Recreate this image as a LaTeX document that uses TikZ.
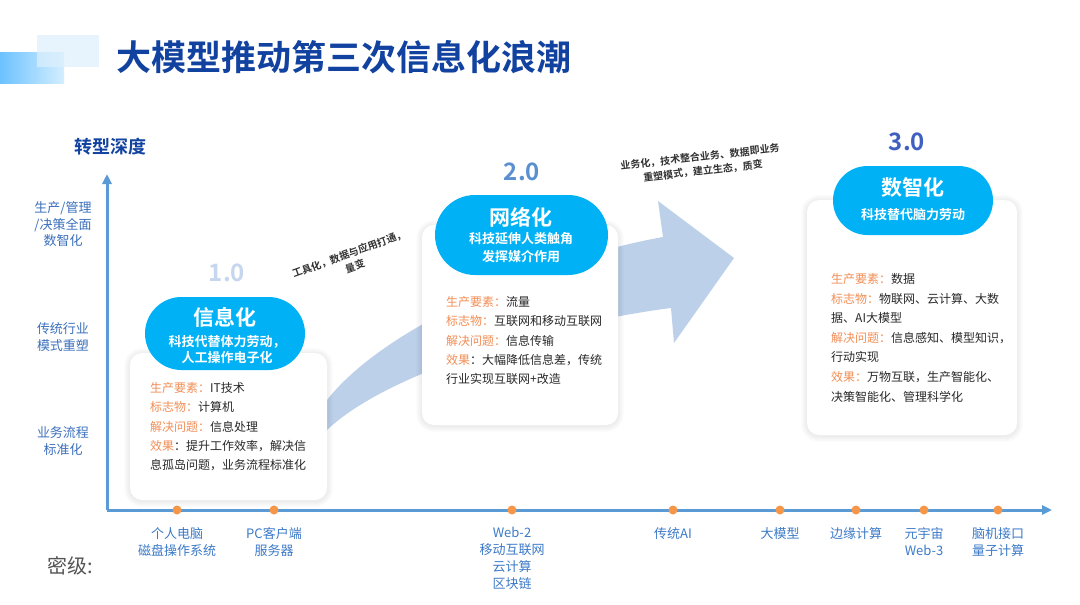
\documentclass[tikz,border=0pt]{standalone}
\usepackage{fontspec}
\setmainfont{Noto Sans CJK SC}[BoldFont={Noto Sans CJK SC Bold}]
\usetikzlibrary{arrows.meta,shapes.misc}
\definecolor{titleblue}{RGB}{18,66,160}
\definecolor{axisblue}{RGB}{91,155,213}
\definecolor{lblblue}{RGB}{60,112,188}
\definecolor{botblue}{RGB}{60,122,200}
\definecolor{pillblue}{RGB}{0,178,245}
\definecolor{arrowblue}{RGB}{189,208,233}
\definecolor{dotorange}{RGB}{245,150,72}
\definecolor{lblorange}{RGB}{242,142,86}
\definecolor{bodytext}{RGB}{40,40,40}
\definecolor{vone}{RGB}{197,214,238}
\definecolor{vtwo}{RGB}{90,143,208}
\definecolor{vthree}{RGB}{64,96,192}
\definecolor{rotgray}{RGB}{50,50,50}
\newcommand{\lbl}[1]{\textcolor{lblorange}{#1}}
\begin{document}
\begin{tikzpicture}[x=1pt,y=-1pt,
  card/.style={rectangle, rounded corners=12pt, fill=white, inner sep=0pt},
  pill/.style={rounded rectangle, fill=pillblue, inner sep=0pt},
  cardtext/.style={anchor=west, inner sep=0pt, text=bodytext, font=\fontsize{12}{14}\selectfont},
  pilltitle/.style={inner sep=0pt, text=white, font=\fontsize{21}{24}\selectfont\bfseries},
  pillsub/.style={inner sep=0pt, text=white, align=center, font=\fontsize{13}{18}\selectfont\bfseries},
  vlabel/.style={inner sep=0pt, font=\fontsize{24}{28}\selectfont\bfseries},
  axislbl/.style={inner sep=0pt, text=lblblue, align=center, font=\fontsize{13}{16.5}\selectfont},
  botlbl/.style={inner sep=0pt, anchor=north, text=botblue, align=center, font=\fontsize{13}{17}\selectfont},
  rottext/.style={inner sep=0pt, text=rotgray, font=\fontsize{10}{13}\selectfont\bfseries},
  axis/.style={draw=axisblue, line width=3pt, -{Triangle[length=10pt,width=9pt]}},
  dot/.style={circle, fill=dotorange, minimum size=9pt, inner sep=0pt}
]
\useasboundingbox (0,0) rectangle (1080,605);
\fill[white] (0,0) rectangle (1080,605);

% decoration
\shade[left color={rgb,255:red,108;green,194;blue,255}, right color={rgb,255:red,212;green,238;blue,255}] (0,52) rectangle (64,83);
\fill[fill={rgb,255:red,222;green,240;blue,253}, opacity=0.7] (37,35) rectangle (99,67);

% title
\node[inner sep=0pt, anchor=west, text=titleblue, font=\fontsize{35}{40}\selectfont\bfseries] (title) at (116,57) {大模型推动第三次信息化浪潮};

% axes
\coordinate (O) at (107,510);
\coordinate (ytop) at (107,174);
\coordinate (xend) at (1052,510);
\draw[axis] (O) -- (ytop);
\draw[axis] (O) -- (xend);
\node[inner sep=0pt, text=titleblue, font=\fontsize{18}{20}\selectfont\bfseries] (ylabel) at (110,147) {转型深度};

\node[axislbl] (a3) at (63,224.5) {生产/管理\\/决策全面\\数智化};
\node[axislbl] (a2) at (63,337) {传统行业\\模式重塑};
\node[axislbl] (a1) at (63,441) {业务流程\\标准化};

% dots and bottom labels
\foreach \xx/\lab [count=\i] in {177/{个人电脑\\磁盘操作系统}, 274/{PC客户端\\服务器}, 512/{Web-2\\移动互联网\\云计算\\区块链}, 673/{传统AI}, 780/{大模型}, 856/{边缘计算}, 924/{元宇宙\\Web-3}, 998/{脑机接口\\量子计算}} {
  \node[dot] (d\i) at (\xx,510) {};
  \node[botlbl] (b\i) at (\xx,527) {\lab};
}

\node[inner sep=0pt, text={rgb,255:red,85;green,85;blue,85}, font=\fontsize{20}{22}\selectfont] (miji) at (70,566) {密级:};

% big curved arrow
\fill[arrowblue] (315,410) -- (327,400) .. controls (390,320) and (560,255) .. (663,237)
  -- (658,201) -- (734,258) -- (674,343) -- (671,308)
  .. controls (560,322) and (390,370) .. (327,430) -- (315,440) -- cycle;

% rotated texts
\node[rottext, rotate=20] (r1a) at (349,254) {工具化，数据与应用打通，};
\node[rottext, rotate=20] (r1b) at (355,266) {量变};
\node[rottext, rotate=6.5] (r2a) at (700,157) {业务化，技术整合业务、数据即业务};
\node[rottext, rotate=6.5] (r2b) at (703,171) {重塑模式，建立生态，质变};

% soft card shadows
\foreach \xa/\ya/\xb/\yb in {130/353/327/500, 422/225/618/425, 807/200/1017/435} {
  \foreach \k in {1,...,6} {
    \pgfmathsetmacro\rr{12+\k}
    \fill[black, opacity=0.011, rounded corners=\rr pt] (\xa-\k,\ya-\k+1) rectangle (\xb+\k,\yb+\k+1);
  }
}

% cards
\node[card, minimum width=197pt, minimum height=147pt] (card1) at (228.5,426.5) {};
\node[card, minimum width=196pt, minimum height=200pt] (card2) at (520,325) {};
\node[card, minimum width=210pt, minimum height=235pt] (card3) at (912,317.5) {};

% version labels
\node[vlabel, text=vone] (v1) at (227,273) {1.0};
\node[vlabel, text=vtwo] (v2) at (522,172) {2.0};
\node[vlabel, text=vthree] (v3) at (907,142) {3.0};

% pills
\node[pill, minimum width=160pt, minimum height=73pt] (p1) at (225,333.5) {};
\node[pilltitle] (p1t) at (225,317) {信息化};
\node[pillsub, font=\fontsize{13}{16}\selectfont\bfseries] (p1s) at (227,350) {科技代替体力劳动，\\人工操作电子化};

\node[pill, minimum width=173pt, minimum height=80pt] (p2) at (521.5,235) {};
\node[pilltitle] (p2t) at (521,217) {网络化};
\node[pillsub] (p2s) at (521,248) {科技延伸人类触角\\发挥媒介作用};

\node[pill, minimum width=160pt, minimum height=69pt] (p3) at (913,200.5) {};
\node[pilltitle] (p3t) at (913,187) {数智化};
\node[pillsub] (p3s) at (913,215) {科技替代脑力劳动};

% card texts
\foreach \txt [count=\i from 0] in {{\lbl{生产要素：}IT技术},{\lbl{标志物：}计算机},{\lbl{解决问题：}信息处理},{\lbl{效果}：提升工作效率，解决信},{息孤岛问题，业务流程标准化}} {
  \node[cardtext] (c1l\i) at (150,{388+19.3*\i}) {\txt};
}
\foreach \txt [count=\i from 0] in {{\lbl{生产要素：}流量},{\lbl{标志物：}互联网和移动互联网},{\lbl{解决问题：}信息传输},{\lbl{效果}：大幅降低信息差，传统},{行业实现互联网+改造}} {
  \node[cardtext] (c2l\i) at (446,{302+19.3*\i}) {\txt};
}
\foreach \txt [count=\i from 0] in {{\lbl{生产要素：}数据},{\lbl{标志物：}物联网、云计算、大数},{据、AI大模型},{\lbl{解决问题：}信息感知、模型知识，},{行动实现},{\lbl{效果：}万物互联，生产智能化、},{决策智能化、管理科学化}} {
  \node[cardtext] (c3l\i) at (831,{279+19.6*\i}) {\txt};
}
\end{tikzpicture}
\end{document}
